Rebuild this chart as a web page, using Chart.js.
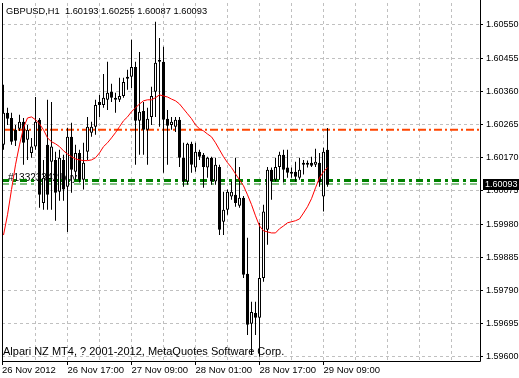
<!DOCTYPE html>
<html>
<head>
<meta charset="utf-8">
<script src="https://cdn.jsdelivr.net/npm/chart.js@4.4.0/dist/chart.umd.min.js"></script>
<style>
  html, body { margin: 0; padding: 0; background: #fff; }
  canvas { display: block; }
</style>
</head>
<body>
<canvas id="chart" width="519" height="378"></canvas>
<script>
const symbol = "GBPUSD";
const period = "H1";
const footerText = "Alpari NZ MT4, ? 2001-2012, MetaQuotes Software Corp.";
const orderText = "#13323342 buy";

// hourly bars, 26 Nov 01:00 .. 29 Nov 10:00
const open = [1.60207, 1.60299, 1.60284, 1.60250, 1.60253, 1.60273, 1.60222, 1.60184, 1.60202, 1.60279,
  1.60041, 1.60207, 1.60159, 1.60164, 1.60073, 1.60164, 1.60087, 1.60230, 1.60130, 1.60184,
  1.60107, 1.60187, 1.60242, 1.60259, 1.60330, 1.60321, 1.60336, 1.60359, 1.60342, 1.60336,
  1.60347, 1.60396, 1.60402, 1.60430, 1.60276, 1.60304, 1.60250, 1.60287, 1.60359, 1.60450,
  1.60445, 1.60282, 1.60264, 1.60259, 1.60279, 1.60170, 1.60102, 1.60210, 1.60142, 1.60187,
  1.60179, 1.60142, 1.60170, 1.60102, 1.60144, 1.59987, 1.60021, 1.60059, 1.60064, 1.60033,
  1.60056, 1.59838, 1.59695, 1.59726, 1.59712, 1.59826, 1.59964, 1.60136, 1.60107, 1.60144,
  1.60179, 1.60142, 1.60124, 1.60130, 1.60113, 1.60150, 1.60150, 1.60156, 1.60150, 1.60156,
  1.60059, 1.60193];
const high = [1.60379, 1.60313, 1.60299, 1.60264, 1.60293, 1.60284, 1.60264, 1.60227, 1.60344, 1.60284,
  1.60164, 1.60336, 1.60330, 1.60187, 1.60193, 1.60179, 1.60256, 1.60270, 1.60207, 1.60193,
  1.60213, 1.60287, 1.60273, 1.60336, 1.60350, 1.60410, 1.60445, 1.60382, 1.60356, 1.60399,
  1.60399, 1.60422, 1.60508, 1.60445, 1.60473, 1.60330, 1.60313, 1.60373, 1.60559, 1.60513,
  1.60488, 1.60307, 1.60287, 1.60287, 1.60287, 1.60213, 1.60213, 1.60216, 1.60213, 1.60193,
  1.60184, 1.60173, 1.60173, 1.60170, 1.60150, 1.60073, 1.60079, 1.60102, 1.60170, 1.60144,
  1.60061, 1.59941, 1.59758, 1.59758, 1.59984, 1.60036, 1.60144, 1.60142, 1.60170, 1.60187,
  1.60193, 1.60193, 1.60142, 1.60159, 1.60170, 1.60164, 1.60162, 1.60173, 1.60196, 1.60184,
  1.60199, 1.60255];
const low = [1.60193, 1.60264, 1.60207, 1.60204, 1.60247, 1.60150, 1.60164, 1.60170, 1.60193, 1.60027,
  1.60021, 1.60021, 1.60021, 1.59990, 1.60047, 1.60047, 1.59958, 1.60070, 1.60107, 1.60099,
  1.60079, 1.60164, 1.60230, 1.60236, 1.60287, 1.60313, 1.60307, 1.60330, 1.60299, 1.60330,
  1.60342, 1.60365, 1.60370, 1.60150, 1.60179, 1.60179, 1.60150, 1.60264, 1.60287, 1.60259,
  1.60127, 1.60150, 1.60250, 1.60244, 1.60144, 1.60087, 1.60093, 1.60127, 1.60130, 1.60164,
  1.60084, 1.60113, 1.60093, 1.60093, 1.59949, 1.59949, 1.60007, 1.60050, 1.60030, 1.60027,
  1.59826, 1.59663, 1.59606, 1.59663, 1.59601, 1.59815, 1.59921, 1.60050, 1.60102, 1.60107,
  1.60099, 1.60113, 1.60113, 1.60102, 1.60107, 1.60122, 1.60142, 1.60144, 1.60144, 1.60087,
  1.60016, 1.60087];
const close = [1.60299, 1.60282, 1.60216, 1.60219, 1.60273, 1.60213, 1.60250, 1.60202, 1.60273, 1.60064,
  1.60113, 1.60064, 1.60202, 1.60070, 1.60170, 1.60079, 1.60230, 1.60136, 1.60184, 1.60107,
  1.60156, 1.60259, 1.60259, 1.60321, 1.60321, 1.60342, 1.60356, 1.60342, 1.60336, 1.60347,
  1.60387, 1.60402, 1.60430, 1.60276, 1.60302, 1.60250, 1.60282, 1.60347, 1.60442, 1.60445,
  1.60279, 1.60262, 1.60273, 1.60279, 1.60170, 1.60102, 1.60210, 1.60150, 1.60187, 1.60173,
  1.60144, 1.60170, 1.60102, 1.60150, 1.59964, 1.60021, 1.60073, 1.60073, 1.60041, 1.60056,
  1.59835, 1.59692, 1.59729, 1.59712, 1.59826, 1.60016, 1.60136, 1.60102, 1.60144, 1.60179,
  1.60136, 1.60127, 1.60130, 1.60116, 1.60136, 1.60156, 1.60156, 1.60147, 1.60159, 1.60099,
  1.60187, 1.60093];
const movingAvg = [1.59949, 1.60007, 1.60079, 1.60150, 1.60207, 1.60256, 1.60284, 1.60287, 1.60279, 1.60267,
  1.60250, 1.60227, 1.60216, 1.60210, 1.60202, 1.60190, 1.60181, 1.60173, 1.60167, 1.60164,
  1.60162, 1.60162, 1.60164, 1.60170, 1.60184, 1.60202, 1.60213, 1.60227, 1.60242, 1.60259,
  1.60276, 1.60287, 1.60302, 1.60313, 1.60324, 1.60333, 1.60336, 1.60336, 1.60342, 1.60350,
  1.60347, 1.60344, 1.60338, 1.60333, 1.60324, 1.60310, 1.60296, 1.60282, 1.60264, 1.60253,
  1.60247, 1.60238, 1.60230, 1.60213, 1.60193, 1.60173, 1.60156, 1.60142, 1.60124, 1.60107,
  1.60090, 1.60064, 1.60036, 1.60004, 1.59975, 1.59961, 1.59958, 1.59955, 1.59955, 1.59967,
  1.59975, 1.59984, 1.59987, 1.59990, 1.59995, 1.60012, 1.60030, 1.60053, 1.60084, 1.60113,
  1.60130, 1.60142];

const xLabels = ["26 Nov 2012", "26 Nov 17:00", "27 Nov 09:00", "28 Nov 01:00", "28 Nov 17:00", "29 Nov 09:00"];
const xLabelBars = [-0.375, 16, 32, 48, 64, 80];
const xGridBars = [8, 16, 24, 32, 40, 48, 56, 64, 72, 80, 88, 96, 104, 112];
const yTicks = [1.59600, 1.59695, 1.59790, 1.59885, 1.59980, 1.60075, 1.60170, 1.60265, 1.60360, 1.60455, 1.60550];

const stopLevel = 1.60250;
const orderLevel = 1.60105;
const bidLevel = 1.60095;

const X_MIN = -0.375, X_MAX = 119.125;
const Y_MIN = 1.5958855, Y_MAX = 1.6061295;

const FONT = "Liberation Sans";
Chart.defaults.font.family = FONT;
Chart.defaults.font.size = 9;
Chart.defaults.color = "#000";

const idx = open.map((_, i) => i);

function levelLine(value, color, width, dash) {
  return {
    type: "line",
    data: [{ x: X_MIN, y: value }, { x: X_MAX, y: value }],
    borderColor: color,
    borderWidth: width,
    borderDash: dash,
    pointRadius: 0,
    order: 10,
  };
}

const mt4Plugin = {
  id: "mt4",
  beforeDraw(chart) {
    const ctx = chart.ctx;
    ctx.save();
    ctx.fillStyle = "#fff";
    ctx.fillRect(0, 0, chart.width, chart.height);
    ctx.restore();
  },
  beforeDatasetsDraw(chart) {
    const ctx = chart.ctx;
    const y = chart.scales.y.getPixelForValue(orderLevel);
    ctx.save();
    ctx.font = `10px '${FONT}'`;
    ctx.fillStyle = "#000";
    ctx.textBaseline = "alphabetic";
    ctx.fillText(orderText, 8, y);
    ctx.restore();
  },
  afterDraw(chart) {
    const ctx = chart.ctx;
    const a = chart.chartArea;
    ctx.save();
    ctx.strokeStyle = "#000";
    ctx.lineWidth = 1;
    ctx.beginPath();
    ctx.moveTo(2.5, a.top);
    ctx.lineTo(2.5, a.bottom + 0.5);
    ctx.lineTo(a.right + 0.5, a.bottom + 0.5);
    ctx.lineTo(a.right + 0.5, 0);
    ctx.stroke();

    const last = open.length - 1;
    ctx.fillStyle = "#000";
    ctx.textBaseline = "middle";
    const head = `${symbol},${period}  ${open[last].toFixed(5)} ${high[last].toFixed(5)} ${low[last].toFixed(5)} ${close[last].toFixed(5)}`;
    ctx.font = `9.3px '${FONT}'`;
    ctx.fillText(head, 6, 11);
    ctx.font = `11px '${FONT}'`;
    ctx.fillText(footerText, 3, 352);

    // current price tag
    const py = Math.round(chart.scales.y.getPixelForValue(close[last]));
    ctx.font = `9px '${FONT}'`;
    ctx.fillRect(483, py - 6, 36, 11);
    ctx.fillStyle = "#fff";
    ctx.fillText(close[last].toFixed(5), 485, py);
    ctx.restore();
  },
};

new Chart(document.getElementById("chart"), {
  type: "bar",
  data: {
    datasets: [
      levelLine(stopLevel, "#ff4500", 2, [8, 3, 2, 3]),
      levelLine(orderLevel, "#008000", 3, [7, 4, 3, 4]),
      levelLine(bidLevel, "#008000", 1, [7, 4, 3, 4]),
      {
        label: "wick",
        data: idx.map((i) => ({ x: i, y: [low[i], high[i]] })),
        backgroundColor: "#000",
        borderWidth: 0,
        barThickness: 1,
        grouped: false,
        inflateAmount: 0,
        order: 3,
      },
      {
        label: "body",
        data: idx.map((i) => ({ x: i, y: [open[i], close[i]] })),
        backgroundColor: idx.map((i) => (close[i] >= open[i] ? "#fff" : "#000")),
        borderColor: "#000",
        borderWidth: 1,
        borderSkipped: false,
        barThickness: 3,
        minBarLength: 1,
        grouped: false,
        inflateAmount: 0,
        order: 2,
      },
      {
        type: "line",
        label: "MA",
        data: idx.map((i) => ({ x: i, y: movingAvg[i] })),
        borderColor: "#ff0000",
        borderWidth: 1,
        pointRadius: 0,
        tension: 0,
        order: 1,
      },
    ],
  },
  options: {
    responsive: false,
    animation: false,
    devicePixelRatio: 1,
    layout: { padding: { left: 2, top: 3, right: 0, bottom: 0 } },
    plugins: { legend: { display: false }, tooltip: { enabled: false } },
    scales: {
      x: {
        type: "linear",
        min: X_MIN,
        max: X_MAX,
        offset: false,
        afterBuildTicks: (scale) => {
          const vals = [...new Set([...xLabelBars, ...xGridBars])].sort((a, b) => a - b);
          scale.ticks = vals.map((v) => ({ value: v }));
        },
        afterFit: (scale) => {
          scale.height = 17;
          scale.paddingLeft = 0;
          scale.paddingRight = 0;
        },
        ticks: {
          autoSkip: false,
          maxRotation: 0,
          align: "start",
          padding: 0,
          font: { size: 9.5 },
          callback: (v) => {
            const k = xLabelBars.indexOf(v);
            return k >= 0 ? xLabels[k] : "";
          },
        },
        grid: {
          offset: false,
          color: (c) => (c.tick && c.tick.value <= X_MIN ? "rgba(0,0,0,0)" : "#c0c0c0"),
          tickColor: (c) => (c.tick && xLabelBars.includes(c.tick.value) ? "#000" : "rgba(0,0,0,0)"),
          tickLength: 4,
        },
        border: { display: false, dash: [3, 3] },
      },
      y: {
        position: "right",
        min: Y_MIN,
        max: Y_MAX,
        afterBuildTicks: (scale) => {
          scale.ticks = yTicks.map((v) => ({ value: v }));
        },
        afterFit: (scale) => {
          scale.width = 39;
          scale.paddingTop = 0;
          scale.paddingBottom = 0;
        },
        ticks: {
          padding: 3,
          callback: (v) => Number(v).toFixed(5),
        },
        grid: {
          color: "#c0c0c0",
          tickColor: "#000",
          tickLength: 3,
        },
        border: { display: false, dash: [3, 3] },
      },
    },
  },
  plugins: [mt4Plugin],
});
</script>
</body>
</html>
